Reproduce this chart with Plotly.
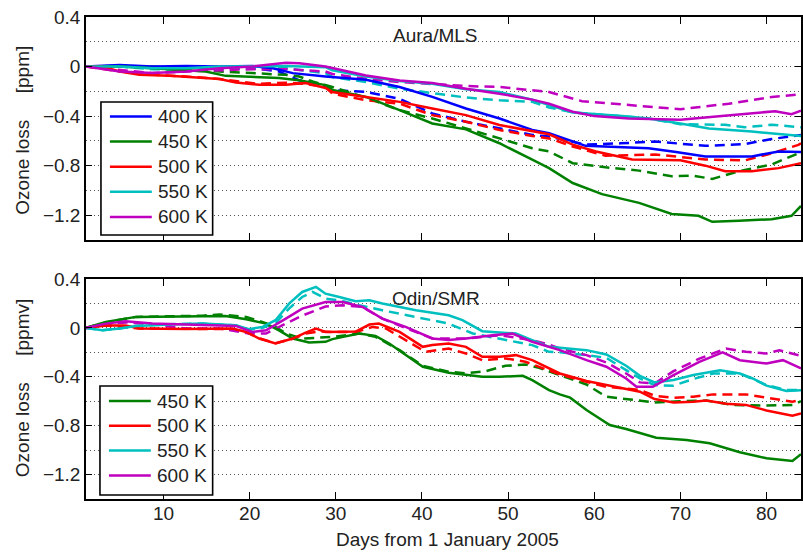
import plotly.graph_objects as go

# ---------------- data ----------------
# Aura/MLS panel: days and ozone loss [ppm]; solid = measured, dashed = second estimate
mls400_x = [1, 4.9, 8.7, 12.6, 16.5, 20.3, 22.7, 25, 28.8, 33.5, 37.4, 41.2, 45.1, 49, 52.8, 54.75, 59, 63, 66.3, 69.5, 72.9, 78.3, 81.4, 84]
mls400_y = [0, 0.013, 0, 0.005, 0, 0.005, -0.013, -0.053, -0.08, -0.107, -0.165, -0.245, -0.339, -0.419, -0.512, -0.539, -0.64, -0.65, -0.66, -0.69, -0.725, -0.725, -0.685, -0.69]
mls400d_x = [1, 4.9, 8.7, 12.6, 16.5, 20.3, 23.4, 25.7, 28.1, 29.6, 33.5, 37.4, 41.2, 45.1, 49, 52.8, 54.75, 59, 63, 67.1, 72.9, 77.5, 80.6, 84]
mls400d_y = [0, 0.005, -0.005, -0.01, -0.01, -0.013, -0.04, -0.11, -0.14, -0.19, -0.205, -0.26, -0.379, -0.445, -0.499, -0.552, -0.565, -0.63, -0.62, -0.605, -0.64, -0.625, -0.585, -0.552]

mls450_x = [1, 4.9, 8.7, 12.6, 14.9, 17.2, 20.3, 23.4, 25.7, 28.8, 29.6, 33.5, 37.4, 41.2, 45.1, 49, 52.8, 54.75, 57.5, 60.9, 65.2, 69, 72.1, 73.7, 76.8, 80.6, 82.9, 84]
mls450_y = [0, 0, -0.013, -0.027, -0.04, -0.075, -0.085, -0.093, -0.11, -0.15, -0.19, -0.245, -0.352, -0.459, -0.507, -0.619, -0.752, -0.82, -0.94, -1.03, -1.10, -1.19, -1.205, -1.253, -1.245, -1.232, -1.205, -1.125]
mls450d_x = [1, 8.7, 12.6, 16.5, 20.3, 24.2, 25.75, 27.3, 29.6, 33.5, 37.4, 41.2, 45.1, 49, 52.8, 54.75, 57.5, 61.3, 65.2, 69, 71.4, 73.7, 76.8, 80.6, 83.7, 84]
mls450d_y = [0, 0, -0.013, -0.04, -0.053, -0.067, -0.08, -0.12, -0.165, -0.251, -0.352, -0.419, -0.499, -0.579, -0.659, -0.685, -0.78, -0.813, -0.84, -0.885, -0.88, -0.907, -0.845, -0.79, -0.70, -0.68]

mls500_x = [1, 2.9, 4.9, 7.2, 10.7, 12.6, 14.5, 16.5, 18.4, 21.1, 24.2, 26.5, 28.8, 29.6, 33.5, 37.4, 41.2, 45.1, 49, 52.8, 54.75, 57.5, 60.2, 64.4, 70, 72.9, 75.2, 78.3, 81.4, 84]
mls500_y = [0, 0, -0.04, -0.067, -0.075, -0.085, -0.093, -0.101, -0.128, -0.147, -0.147, -0.133, -0.173, -0.205, -0.245, -0.285, -0.339, -0.392, -0.472, -0.525, -0.547, -0.63, -0.685, -0.75, -0.757, -0.80, -0.845, -0.845, -0.82, -0.78]
mls500d_x = [1, 4.9, 7.2, 12.6, 16.5, 21.1, 24.2, 26.5, 28.8, 29.6, 33.5, 37.4, 41.2, 45.1, 49, 52.8, 54.75, 57.5, 61.3, 67.1, 72.9, 77.5, 80.6, 83.7, 84]
mls500d_y = [0, -0.035, -0.06, -0.08, -0.1, -0.14, -0.13, -0.14, -0.165, -0.219, -0.272, -0.299, -0.392, -0.445, -0.512, -0.56, -0.58, -0.645, -0.72, -0.71, -0.75, -0.757, -0.70, -0.632, -0.62]

mls550_x = [1, 4.9, 8.7, 12.6, 16.5, 20.3, 24.2, 28.8, 29.6, 33.5, 37.4, 41.2, 45.1, 49, 52.8, 54.75, 57.5, 63.2, 66.3, 70, 73.3, 78.3, 84]
mls550_y = [0, 0, -0.013, -0.013, 0, 0.005, 0.005, -0.005, -0.03, -0.08, -0.117, -0.139, -0.184, -0.205, -0.267, -0.31, -0.37, -0.40, -0.42, -0.46, -0.50, -0.525, -0.56]
mls550d_x = [1, 4.9, 8.7, 12.6, 16.5, 20.3, 24.2, 28.8, 29.6, 33.5, 37.4, 41.2, 45.1, 49, 52.8, 54.75, 57.5, 63.2, 66.3, 70, 75.2, 77.5, 80.6, 84]
mls550d_y = [0, 0, -0.021, -0.027, -0.021, -0.013, -0.013, -0.053, -0.085, -0.125, -0.179, -0.213, -0.25, -0.272, -0.285, -0.33, -0.37, -0.40, -0.42, -0.465, -0.47, -0.49, -0.47, -0.49]

mls600_x = [1, 4.9, 8.7, 12.6, 16.5, 20.3, 24.2, 25.75, 28.8, 33.5, 37.4, 41.2, 45.1, 49, 52.8, 54.75, 57.5, 60, 64, 70, 74.8, 81, 82.9, 84]
mls600_y = [0, -0.04, -0.053, -0.04, -0.013, 0, 0.03, 0.027, 0.0, -0.072, -0.112, -0.133, -0.179, -0.219, -0.267, -0.3, -0.365, -0.40, -0.42, -0.43, -0.40, -0.36, -0.385, -0.357]
mls600d_x = [1, 4.9, 8.7, 12.6, 16.5, 20.3, 24.2, 28.8, 29.6, 33.5, 37.4, 41.2, 45.1, 49, 52.8, 54.75, 58.6, 63.2, 70, 75.6, 80.6, 84]
mls600d_y = [0, -0.027, -0.053, -0.04, -0.032, -0.021, -0.021, -0.04, -0.06, -0.099, -0.125, -0.139, -0.157, -0.165, -0.192, -0.205, -0.28, -0.307, -0.344, -0.30, -0.245, -0.224]

# Odin/SMR panel: days and ozone loss [ppmv]
smr450_x = [1, 3.3, 6.8, 10.7, 14.5, 17.2, 19.6, 21.9, 23.4, 25, 26.9, 28.8, 29.6, 32.7, 34.6, 36.2, 38.1, 40.1, 43.1, 45.1, 47, 49, 51.7, 52.8, 54.75, 56, 57.2, 59.1, 61.8, 63.7, 67.2, 70.7, 73.4, 76.9, 80, 83, 84]
smr450_y = [0, 0.049, 0.09, 0.09, 0.095, 0.098, 0.07, 0.035, -0.02, -0.087, -0.12, -0.114, -0.092, -0.046, -0.065, -0.128, -0.223, -0.318, -0.367, -0.386, -0.4, -0.4, -0.392, -0.427, -0.509, -0.544, -0.571, -0.672, -0.795, -0.827, -0.898, -0.917, -0.944, -1.018, -1.067, -1.088, -1.034]
smr450d_x = [1, 3.3, 6.8, 10.7, 14.5, 16.5, 19.6, 22.7, 24.2, 26.1, 28.1, 29.6, 32.7, 34.6, 37.4, 40.1, 43.1, 45.1, 47.4, 49.7, 52, 53.6, 56, 59.1, 61.4, 63.7, 67, 69.9, 73, 76.1, 80, 83, 84]
smr450d_y = [0, 0.045, 0.09, 0.095, 0.1, 0.11, 0.09, 0.02, -0.045, -0.087, -0.082, -0.074, -0.046, -0.073, -0.182, -0.31, -0.359, -0.372, -0.354, -0.31, -0.30, -0.327, -0.387, -0.463, -0.563, -0.582, -0.61, -0.60, -0.595, -0.63, -0.636, -0.63, -0.60]

smr500_x = [1, 3.3, 5.6, 7.2, 12.6, 16.5, 18, 19.6, 21.1, 23, 25, 26.5, 27.7, 28.8, 32.3, 33.9, 35, 37.4, 40.1, 41.2, 43.1, 45.1, 47, 49, 50.9, 52.8, 54.75, 56, 59.1, 61.4, 65.3, 67, 69.2, 71.5, 73, 75.3, 77.6, 80, 83, 84]
smr500_y = [0, 0.02, 0.02, -0.005, -0.01, -0.005, -0.005, -0.033, -0.087, -0.128, -0.087, -0.038, -0.005, -0.033, -0.03, 0.027, 0.035, -0.033, -0.155, -0.14, -0.128, -0.155, -0.237, -0.237, -0.223, -0.264, -0.332, -0.373, -0.435, -0.468, -0.522, -0.582, -0.61, -0.605, -0.595, -0.621, -0.63, -0.676, -0.718, -0.70]
smr500d_x = [1, 3.3, 7.2, 12.6, 18, 19.6, 21.1, 23, 25, 26.5, 28.1, 29.6, 32.3, 34.3, 35.8, 38.1, 40.4, 43.1, 45.1, 47, 49.7, 52, 53.6, 56, 59.1, 61.4, 65.3, 67, 69.2, 71.5, 73.8, 77.6, 80, 83, 84]
smr500d_y = [0, 0.02, -0.005, -0.01, -0.01, -0.035, -0.085, -0.125, -0.09, -0.045, -0.03, -0.033, -0.033, 0.008, -0.005, -0.1, -0.196, -0.169, -0.209, -0.264, -0.25, -0.277, -0.318, -0.381, -0.441, -0.482, -0.508, -0.555, -0.571, -0.563, -0.544, -0.544, -0.571, -0.604, -0.59]

smr550_x = [1, 2.9, 4.9, 6.8, 10.7, 14.5, 18.4, 19.9, 21.5, 23, 24.6, 26.1, 27.7, 28.8, 30.4, 32.3, 33.9, 35.4, 39.3, 43.1, 44.7, 47, 49, 50.9, 52.8, 54.75, 56, 59.1, 61.4, 63.7, 65.3, 67, 69.2, 71.5, 74.6, 76.9, 78.4, 80, 82.3, 84]
smr550_y = [0, -0.02, -0.005, 0.016, 0.027, 0.035, 0.022, -0.01, 0.008, 0.063, 0.2, 0.294, 0.335, 0.28, 0.253, 0.218, 0.226, 0.2, 0.144, 0.103, 0.063, -0.027, -0.038, -0.046, -0.1, -0.155, -0.163, -0.182, -0.218, -0.31, -0.392, -0.446, -0.427, -0.386, -0.346, -0.373, -0.414, -0.473, -0.517, -0.51]
smr550d_x = [1, 2.9, 4.9, 6.8, 10.7, 14.5, 18.4, 19.9, 21.5, 23, 24.6, 26.1, 27.3, 28.8, 30.4, 32.7, 35.4, 39.3, 43.1, 45.9, 49, 52.8, 54.75, 56, 59.1, 61.4, 63.7, 65.3, 67, 69.2, 71.5, 73.8, 76.9, 80, 82.3, 84]
smr550d_y = [0, -0.02, -0.005, 0.015, 0.03, 0.035, 0.02, -0.015, 0.0, 0.04, 0.16, 0.253, 0.294, 0.24, 0.226, 0.185, 0.144, 0.09, 0.035, -0.046, -0.087, -0.141, -0.196, -0.2, -0.223, -0.245, -0.346, -0.414, -0.468, -0.473, -0.418, -0.373, -0.373, -0.468, -0.509, -0.509]

smr600_x = [1, 3.3, 5.6, 8.7, 12.6, 16.5, 18.4, 20.3, 21.9, 24.2, 26.1, 28.8, 30.8, 33.1, 35.4, 38.1, 41.2, 43.1, 45.1, 48.2, 50.5, 52.8, 54.75, 56, 59.1, 61.4, 63.7, 64.9, 66.8, 69.2, 72.2, 74.9, 76.9, 80, 81.9, 84]
smr600_y = [0, 0.035, 0.054, 0.035, 0.027, 0.022, 0.016, -0.033, -0.02, 0.076, 0.158, 0.212, 0.212, 0.171, 0.076, 0.008, -0.087, -0.1, -0.087, -0.06, -0.046, -0.114, -0.155, -0.182, -0.264, -0.318, -0.414, -0.482, -0.482, -0.386, -0.278, -0.2, -0.264, -0.291, -0.264, -0.332]
smr600d_x = [1, 3.3, 5.6, 8.7, 12.6, 16.5, 19.9, 21.9, 24.2, 26.1, 28.8, 30.8, 33.1, 35.4, 38.1, 41.2, 45.1, 49, 52.8, 54.75, 56, 59.1, 61.4, 63.7, 65.3, 67, 69.2, 72.2, 75.3, 77.6, 80, 81.5, 84]
smr600d_y = [0, 0.03, 0.045, 0.03, -0.005, -0.005, -0.046, -0.046, 0.035, 0.1, 0.175, 0.185, 0.171, 0.076, 0.0, -0.087, -0.087, -0.06, -0.1, -0.136, -0.169, -0.223, -0.283, -0.373, -0.446, -0.455, -0.354, -0.251, -0.169, -0.196, -0.21, -0.183, -0.229]

mls_labels = ["400 K", "450 K", "500 K", "550 K", "600 K"]
smr_labels = ["450 K", "500 K", "550 K", "600 K"]
x_ticks = [10, 20, 30, 40, 50, 60, 70, 80]
y_labelled = [0.4, 0.0, -0.4, -0.8, -1.2]
y_grid = [0.2, 0.0, -0.2, -0.4, -0.6, -0.8, -1.0, -1.2]

# ---------------- style ----------------
COL = {"400 K": "#0000FF", "450 K": "#008000", "500 K": "#FF0000",
       "550 K": "#00BFBF", "600 K": "#BF00BF"}
FONT = "Liberation Sans, Arial, Helvetica, sans-serif"
FS = 19
LW = 2.5
DASH = "10px,6px"

W, H = 803, 552
ML, MR, MT, MB = 86, 0, 17, 53
PW, PH = W - ML - MR, H - MT - MB


def PX(x):
    return (x - ML) / PW


def PY(y):
    return (H - MB - y) / PH


fig = go.Figure()

mls = [
    ("400 K", mls400_x, mls400_y, mls400d_x, mls400d_y),
    ("450 K", mls450_x, mls450_y, mls450d_x, mls450d_y),
    ("500 K", mls500_x, mls500_y, mls500d_x, mls500d_y),
    ("550 K", mls550_x, mls550_y, mls550d_x, mls550d_y),
    ("600 K", mls600_x, mls600_y, mls600d_x, mls600d_y),
]
smr = [
    ("450 K", smr450_x, smr450_y, smr450d_x, smr450d_y),
    ("500 K", smr500_x, smr500_y, smr500d_x, smr500d_y),
    ("550 K", smr550_x, smr550_y, smr550d_x, smr550d_y),
    ("600 K", smr600_x, smr600_y, smr600d_x, smr600d_y),
]

for ax, series in (("", mls), ("2", smr)):
    for name, xs, ys, xd, yd in series:
        fig.add_trace(go.Scatter(x=xd, y=yd, mode="lines", name=name + " (dashed)",
                                 line=dict(color=COL[name], width=LW, dash=DASH),
                                 xaxis="x" + ax, yaxis="y" + ax, showlegend=False))
    for name, xs, ys, xd, yd in series:
        fig.add_trace(go.Scatter(x=xs, y=ys, mode="lines", name=name,
                                 line=dict(color=COL[name], width=LW),
                                 xaxis="x" + ax, yaxis="y" + ax, showlegend=False))

top_dom = [PY(240), 1.0]
bot_dom = [0.0, PY(279)]

xcommon = dict(range=[1, 84], tickvals=x_ticks, ticks="inside", ticklen=7, tickwidth=1,
               tickcolor="black", showline=True, linecolor="black", linewidth=1.6,
               mirror="ticks", showgrid=False, zeroline=False,
               tickfont=dict(family=FONT, size=FS, color="#222"))
ycommon = dict(range=[-1.4, 0.4], tickvals=y_labelled,
               ticktext=["0.4", "0", "\u22120.4", "\u22120.8", "\u22121.2"],
               ticks="inside", ticklen=6, tickwidth=1, tickcolor="black",
               showline=True, linecolor="black", linewidth=1.6, mirror="ticks",
               showgrid=False, zeroline=False,
               minor=dict(tickvals=y_grid, showgrid=True, gridcolor="#555555",
                          griddash="1px,3px", gridwidth=1, ticks=""),
               tickfont=dict(family=FONT, size=FS, color="#222"))

fig.update_layout(
    width=W, height=H, margin=dict(l=ML, r=MR, t=MT, b=MB),
    paper_bgcolor="white", plot_bgcolor="white", showlegend=False,
    font=dict(family=FONT, size=FS, color="#222"),
    xaxis=dict(domain=[0, 1], anchor="y", showticklabels=False, **xcommon),
    yaxis=dict(domain=top_dom, anchor="x", **ycommon),
    xaxis2=dict(domain=[0, 1], anchor="y2", showticklabels=True, **xcommon),
    yaxis2=dict(domain=bot_dom, anchor="x2", **ycommon),
)
try:
    fig.update_layout(xaxis2_ticklabelstandoff=-4)
except Exception:
    pass

ann = []
shapes = []
NB = "\u00a0"
ann.append(dict(text="Aura/MLS", x=PX(436), y=PY(35.5), xref="paper", yref="paper",
                showarrow=False, xanchor="center", yanchor="middle",
                font=dict(family=FONT, size=FS, color="#222")))
ann.append(dict(text="Odin/SMR", x=PX(437), y=PY(299), xref="paper", yref="paper",
                showarrow=False, xanchor="center", yanchor="middle",
                font=dict(family=FONT, size=FS, color="#222")))
ann.append(dict(text="Ozone loss" + NB * 5 + "[ppm]", x=PX(22), y=PY(130.5),
                xref="paper", yref="paper", showarrow=False, textangle=-90,
                xanchor="center", yanchor="middle",
                font=dict(family=FONT, size=FS, color="#222")))
ann.append(dict(text="Ozone loss" + NB * 5 + "[ppmv]", x=PX(22), y=PY(388),
                xref="paper", yref="paper", showarrow=False, textangle=-90,
                xanchor="center", yanchor="middle",
                font=dict(family=FONT, size=FS, color="#222")))
ann.append(dict(text="Days from 1 January 2005", x=PX(448.5), y=PY(539),
                xref="paper", yref="paper", showarrow=False,
                xanchor="center", yanchor="middle",
                font=dict(family=FONT, size=FS, color="#222")))


def legend_box(labels, x0, y0, x1, y1, first, step):
    shapes.append(dict(type="rect", xref="paper", yref="paper",
                       x0=PX(x0), x1=PX(x1), y0=PY(y0), y1=PY(y1),
                       line=dict(color="black", width=1.6), fillcolor="white", layer="above"))
    for i, lab in enumerate(labels):
        yy = first + i * step
        shapes.append(dict(type="line", xref="paper", yref="paper",
                           x0=PX(x0 + 9), x1=PX(x0 + 51), y0=PY(yy), y1=PY(yy),
                           line=dict(color=COL[lab], width=LW), layer="above"))
        ann.append(dict(text=lab, x=PX(x0 + 55), y=PY(yy), xref="paper", yref="paper",
                        showarrow=False, xanchor="left", yanchor="middle",
                        font=dict(family=FONT, size=FS, color="#222")))


legend_box(mls_labels, 101, 102, 213, 235, 116.5, 25.1)
legend_box(smr_labels, 100, 386, 213, 495, 401, 24.8)

fig.update_layout(annotations=ann, shapes=shapes)
fig.write_html("out.html")
